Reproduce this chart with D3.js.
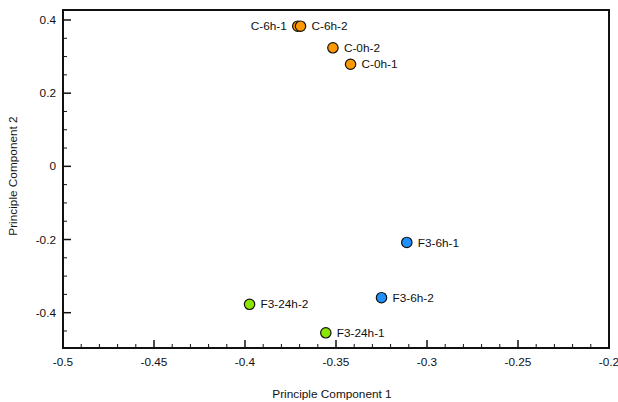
<!DOCTYPE html>
<html><head><meta charset="utf-8">
<script src="https://cdn.jsdelivr.net/npm/d3@7"></script>
<style>body{margin:0;background:#fff}svg{display:block;font-family:"Liberation Sans",Arial,Helvetica,sans-serif}</style>
</head><body><svg id="c" width="618" height="402"></svg>
<script>
const labels = ["C-6h-1","C-6h-2","C-0h-2","C-0h-1","F3-6h-1","F3-6h-2","F3-24h-1","F3-24h-2"];
const pc1 = [-0.3710,-0.3695,-0.3517,-0.3420,-0.3111,-0.3250,-0.3556,-0.3975];
const pc2 = [0.3830,0.3830,0.3240,0.2790,-0.2080,-0.3590,-0.4550,-0.3770];
const groups = ["C","C","C","C","F3-6h","F3-6h","F3-24h","F3-24h"];
const labelSide = ["left","right","right","right","right","right","right","right"];
const groupColors = {"C":"#ff9900","F3-6h":"#1e90ff","F3-24h":"#8ae600"};
const xTicks = [-0.5,-0.45,-0.4,-0.35,-0.3,-0.25,-0.2];
const xTickLabels = ["-0.5","-0.45","-0.4","-0.35","-0.3","-0.25","-0.2"];
const yTicks = [0.4,0.2,0,-0.2,-0.4];
const yTickLabels = ["0.4","0.2","0","-0.2","-0.4"];

const svg = d3.select("#c");
const L=63, R=609, T=10, B=348;
const FS = 11.8;
const x = d3.scaleLinear().domain([-0.5,-0.2]).range([L,R]);
const y = d3.scaleLinear().domain([-0.4965,0.4273]).range([B,T]);

svg.append("rect").attr("x",L).attr("y",T).attr("width",R-L).attr("height",B-T)
  .attr("fill","none").attr("stroke","#111").attr("stroke-width",2);

const xMinor = d3.range(-0.5,-0.2+1e-9,0.01).filter(v=>!xTicks.some(t=>Math.abs(t-v)<1e-9));
const xAxis = svg.append("g").attr("transform",`translate(0,${B})`);
xAxis.selectAll("line.min").data(xMinor).join("line")
  .attr("x1",d=>x(d)).attr("x2",d=>x(d)).attr("y1",0).attr("y2",-4).attr("stroke","#111").attr("stroke-width",1);
xAxis.selectAll("line.maj").data(xTicks).join("line")
  .attr("x1",d=>x(d)).attr("x2",d=>x(d)).attr("y1",0).attr("y2",-8).attr("stroke","#111").attr("stroke-width",1.5);
xAxis.selectAll("text").data(xTicks).join("text")
  .attr("x",d=>x(d)).attr("y",18).attr("text-anchor","middle").attr("font-size",FS).attr("fill","#111")
  .text((d,i)=>xTickLabels[i]);

const yMinor = d3.range(-0.45,0.43,0.05).filter(v=>!yTicks.some(t=>Math.abs(t-v)<1e-9));
const yAxis = svg.append("g").attr("transform",`translate(${L},0)`);
yAxis.selectAll("line.min").data(yMinor).join("line")
  .attr("y1",d=>y(d)).attr("y2",d=>y(d)).attr("x1",0).attr("x2",4).attr("stroke","#111").attr("stroke-width",1);
yAxis.selectAll("line.maj").data(yTicks).join("line")
  .attr("y1",d=>y(d)).attr("y2",d=>y(d)).attr("x1",0).attr("x2",8).attr("stroke","#111").attr("stroke-width",1.5);
yAxis.selectAll("text").data(yTicks).join("text")
  .attr("x",-7).attr("y",d=>y(d)).attr("dy","0.35em").attr("text-anchor","end").attr("font-size",FS).attr("fill","#111")
  .text((d,i)=>yTickLabels[i]);

svg.append("text").attr("x",332).attr("y",398).attr("text-anchor","middle").attr("font-size",FS).attr("fill","#111")
  .text("Principle Component 1");
svg.append("text").attr("transform",`translate(17,176) rotate(-90)`).attr("text-anchor","middle").attr("font-size",FS).attr("fill","#111")
  .text("Principle Component 2");

const data = labels.map((l,i)=>({l,x:pc1[i],y:pc2[i],g:groups[i],s:labelSide[i]}));
svg.selectAll("circle.pt").data(data).join("circle")
  .attr("cx",d=>x(d.x)).attr("cy",d=>y(d.y)).attr("r",5.2)
  .attr("fill",d=>groupColors[d.g]).attr("stroke","#111").attr("stroke-width",1.2);
svg.selectAll("text.lbl").data(data).join("text")
  .attr("x",d=>d.s==="left"? x(d.x)-11 : x(d.x)+11).attr("y",d=>y(d.y)).attr("dy","0.35em")
  .attr("text-anchor",d=>d.s==="left"?"end":"start").attr("font-size",FS).attr("fill","#111")
  .text(d=>d.l);
</script></body></html>
